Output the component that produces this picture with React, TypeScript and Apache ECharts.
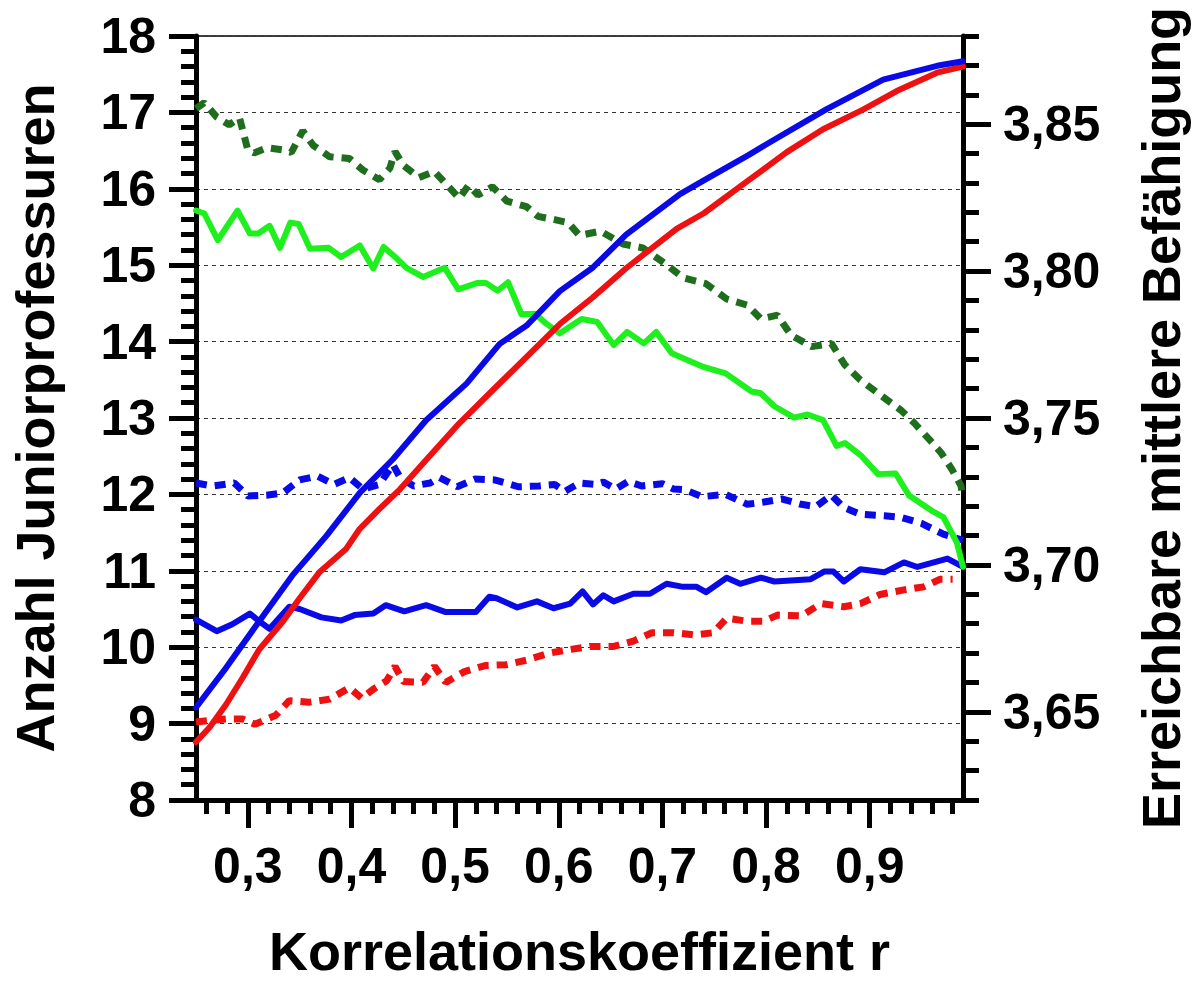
import React, { useEffect, useRef } from "react";
import * as echarts from "echarts";

// ---- tick values ----
const xMajorTicks = [0.3, 0.4, 0.5, 0.6, 0.7, 0.8, 0.9];
const xMinorTicks = [0.26, 0.28, 0.32, 0.34, 0.36, 0.38, 0.42, 0.44, 0.46, 0.48, 0.52, 0.54, 0.56, 0.58, 0.62, 0.64, 0.66, 0.68, 0.72, 0.74, 0.76, 0.78, 0.82, 0.84, 0.86, 0.88, 0.92, 0.94, 0.96, 0.98];
const rightMajorTicks = [3.65, 3.7, 3.75, 3.8, 3.85];
const rightMinorTicks = [3.62, 3.63, 3.64, 3.66, 3.67, 3.68, 3.69, 3.71, 3.72, 3.73, 3.74, 3.76, 3.77, 3.78, 3.79, 3.81, 3.82, 3.83, 3.84, 3.86, 3.87, 3.88];

// ---- series (left axis: Anzahl Juniorprofessuren) ----
const xBlueRise = [0.25, 0.279, 0.311, 0.343, 0.376, 0.408, 0.44, 0.472, 0.511, 0.543, 0.569, 0.601, 0.633, 0.665, 0.717, 0.74, 0.783, 0.8, 0.858, 0.913, 0.965, 0.99];
const yBlueRise = [9.21, 9.73, 10.34, 10.94, 11.46, 12.02, 12.46, 12.97, 13.45, 13.97, 14.21, 14.66, 14.97, 15.4, 15.93, 16.11, 16.44, 16.58, 17.04, 17.43, 17.61, 17.67];

const xRedRise = [0.25, 0.263, 0.279, 0.295, 0.311, 0.334, 0.35, 0.369, 0.395, 0.408, 0.427, 0.447, 0.472, 0.504, 0.536, 0.569, 0.601, 0.633, 0.665, 0.714, 0.74, 0.781, 0.82, 0.855, 0.894, 0.926, 0.965, 0.99];
const yRedRise = [8.76, 8.95, 9.25, 9.6, 9.97, 10.34, 10.64, 10.98, 11.29, 11.55, 11.81, 12.07, 12.45, 12.93, 13.36, 13.8, 14.23, 14.58, 14.96, 15.48, 15.68, 16.09, 16.48, 16.78, 17.04, 17.28, 17.52, 17.6];

const xBlueFlat = [0.25, 0.27, 0.285, 0.302, 0.311, 0.321, 0.34, 0.35, 0.371, 0.39, 0.403, 0.421, 0.433, 0.451, 0.472, 0.491, 0.52, 0.533, 0.54, 0.56, 0.579, 0.595, 0.611, 0.623, 0.633, 0.643, 0.653, 0.672, 0.688, 0.704, 0.72, 0.733, 0.742, 0.762, 0.775, 0.795, 0.808, 0.843, 0.856, 0.865, 0.875, 0.891, 0.914, 0.933, 0.946, 0.975, 0.99];
const yBlueFlat = [10.36, 10.21, 10.3, 10.44, 10.34, 10.24, 10.53, 10.5, 10.39, 10.35, 10.42, 10.44, 10.55, 10.47, 10.55, 10.46, 10.46, 10.66, 10.64, 10.52, 10.6, 10.51, 10.57, 10.73, 10.56, 10.68, 10.6, 10.7, 10.7, 10.83, 10.79, 10.79, 10.72, 10.91, 10.83, 10.91, 10.86, 10.89, 10.99, 10.99, 10.86, 11.02, 10.98, 11.11, 11.05, 11.16, 11.05];

const xBlueDash = [0.25, 0.266, 0.287, 0.3, 0.318, 0.334, 0.35, 0.367, 0.383, 0.398, 0.411, 0.427, 0.44, 0.447, 0.46, 0.476, 0.485, 0.502, 0.519, 0.538, 0.561, 0.581, 0.596, 0.606, 0.62, 0.636, 0.643, 0.655, 0.667, 0.68, 0.7, 0.711, 0.722, 0.738, 0.761, 0.782, 0.798, 0.815, 0.834, 0.848, 0.863, 0.875, 0.891, 0.914, 0.93, 0.95, 0.971, 0.99];
const yBlueDash = [12.15, 12.11, 12.15, 11.98, 11.99, 12.02, 12.19, 12.24, 12.13, 12.22, 12.07, 12.13, 12.39, 12.22, 12.11, 12.15, 12.22, 12.1, 12.2, 12.19, 12.1, 12.11, 12.13, 12.04, 12.15, 12.13, 12.16, 12.07, 12.17, 12.11, 12.14, 12.07, 12.06, 11.97, 12.0, 11.87, 11.9, 11.94, 11.87, 11.84, 11.99, 11.83, 11.74, 11.72, 11.7, 11.62, 11.48, 11.4];

const xRedDash = [0.25, 0.263, 0.279, 0.295, 0.307, 0.327, 0.34, 0.359, 0.379, 0.398, 0.41, 0.421, 0.434, 0.442, 0.45, 0.469, 0.48, 0.491, 0.509, 0.529, 0.549, 0.569, 0.59, 0.611, 0.63, 0.653, 0.672, 0.69, 0.711, 0.731, 0.749, 0.762, 0.782, 0.798, 0.811, 0.834, 0.853, 0.875, 0.891, 0.91, 0.933, 0.952, 0.968, 0.98];
const yRedDash = [9.02, 9.04, 9.06, 9.06, 8.99, 9.11, 9.3, 9.28, 9.32, 9.47, 9.33, 9.45, 9.56, 9.75, 9.55, 9.54, 9.75, 9.54, 9.68, 9.76, 9.77, 9.83, 9.92, 9.97, 10.01, 10.01, 10.08, 10.19, 10.19, 10.16, 10.19, 10.38, 10.34, 10.34, 10.42, 10.41, 10.57, 10.53, 10.57, 10.69, 10.75, 10.79, 10.89, 10.89];

// ---- series (right axis: Erreichbare mittlere Befähigung) ----
const xGreen = [0.25, 0.258, 0.271, 0.29, 0.302, 0.31, 0.321, 0.331, 0.341, 0.349, 0.36, 0.378, 0.39, 0.408, 0.421, 0.431, 0.443, 0.453, 0.469, 0.49, 0.503, 0.521, 0.53, 0.541, 0.551, 0.564, 0.577, 0.588, 0.601, 0.622, 0.637, 0.653, 0.666, 0.682, 0.694, 0.709, 0.725, 0.738, 0.761, 0.786, 0.795, 0.808, 0.827, 0.84, 0.855, 0.868, 0.876, 0.892, 0.908, 0.925, 0.938, 0.96, 0.971, 0.984, 0.99];
const yGreen = [3.8206, 3.8196, 3.8105, 3.8206, 3.8128, 3.8128, 3.8154, 3.8079, 3.8165, 3.816, 3.8076, 3.8079, 3.8048, 3.8087, 3.8009, 3.8082, 3.8045, 3.8011, 3.798, 3.8011, 3.7938, 3.7959, 3.7959, 3.7933, 3.7962, 3.7853, 3.7855, 3.7821, 3.7788, 3.7837, 3.7827, 3.7748, 3.7793, 3.7754, 3.7793, 3.772, 3.7696, 3.7676, 3.7652, 3.759, 3.7584, 3.754, 3.7501, 3.7512, 3.7493, 3.7405, 3.7415, 3.7371, 3.7309, 3.7311, 3.7236, 3.7184, 3.7163, 3.7077, 3.6994];

const xDarkGreenDash = [0.25, 0.258, 0.27, 0.282, 0.292, 0.3, 0.306, 0.319, 0.334, 0.342, 0.353, 0.363, 0.379, 0.398, 0.411, 0.427, 0.437, 0.442, 0.45, 0.465, 0.48, 0.495, 0.504, 0.513, 0.522, 0.536, 0.55, 0.569, 0.58, 0.596, 0.609, 0.62, 0.64, 0.662, 0.681, 0.704, 0.72, 0.742, 0.762, 0.782, 0.795, 0.811, 0.824, 0.844, 0.863, 0.876, 0.891, 0.91, 0.93, 0.943, 0.959, 0.969, 0.979, 0.988, 0.99];
const yDarkGreenDash = [3.8553, 3.8573, 3.8524, 3.8498, 3.8521, 3.8412, 3.8402, 3.842, 3.8412, 3.8404, 3.8477, 3.8428, 3.8389, 3.8383, 3.8344, 3.8311, 3.835, 3.8407, 3.836, 3.8318, 3.8339, 3.8282, 3.8248, 3.8292, 3.8259, 3.8287, 3.8238, 3.8219, 3.8186, 3.8175, 3.8165, 3.8121, 3.8136, 3.8092, 3.8079, 3.8022, 3.7977, 3.7957, 3.7905, 3.7884, 3.7837, 3.785, 3.7782, 3.7743, 3.7754, 3.7681, 3.7629, 3.7579, 3.7527, 3.7483, 3.7421, 3.7381, 3.7327, 3.727, 3.7231];

const FONT = "'Liberation Sans', Arial, sans-serif";
const zip = (xs: number[], ys: number[]) => xs.map((x, i) => [x, ys[i]]);
const comma = (v: number, d: number) => v.toFixed(d).replace(".", ",");

export default function App() {
  const ref = useRef<HTMLDivElement>(null);
  useEffect(() => {
    if (!ref.current) return;
    const chart = echarts.init(ref.current, null, { renderer: "svg" });
    const labelStyle = { fontFamily: FONT, fontWeight: "bold" as const, fontSize: 50, color: "#000" };
    const nameStyle = { fontFamily: FONT, fontWeight: "bold" as const, fontSize: 54, color: "#000" };
    const solid = (name: string, xs: number[], ys: number[], color: string, yIdx: number) => ({
      name, type: "line", data: zip(xs, ys), yAxisIndex: yIdx, xAxisIndex: 0,
      showSymbol: false, symbol: "none",
      lineStyle: { color, width: 6, join: "round", cap: "round" }, z: 3,
    });
    const dashed = (name: string, xs: number[], ys: number[], color: string, yIdx: number) => ({
      name, type: "line", data: zip(xs, ys), yAxisIndex: yIdx, xAxisIndex: 0,
      showSymbol: false, symbol: "none",
      lineStyle: { color, width: 7, type: [11, 8], cap: "butt" }, z: 2,
    });
    chart.setOption({
      animation: false,
      backgroundColor: "#fff",
      grid: { left: 192.5, right: 233, top: 36, bottom: 176.3, show: true, borderColor: "#000", borderWidth: 1.5, backgroundColor: "transparent" },
      xAxis: [
        {
          type: "value", min: 0.25, max: 0.99, position: "bottom",
          name: "Korrelationskoeffizient r", nameLocation: "middle", nameGap: 124, nameTextStyle: nameStyle,
          axisLine: { show: true, onZero: false, lineStyle: { color: "#000", width: 5 } },
          axisTick: { show: true, inside: false, customValues: xMajorTicks, length: 28, lineStyle: { color: "#000", width: 5 } },
          axisLabel: { ...labelStyle, customValues: xMajorTicks, margin: 41, formatter: (v: number) => comma(v, 1) },
          splitLine: { show: false },
        },
        {
          type: "value", min: 0.25, max: 0.99, position: "bottom",
          axisLine: { show: false, onZero: false },
          axisTick: { show: true, inside: false, customValues: xMinorTicks, length: 14, lineStyle: { color: "#000", width: 5 } },
          axisLabel: { show: false },
          splitLine: { show: false },
        },
      ],
      yAxis: [
        {
          type: "value", min: 8, max: 18, interval: 1, position: "left",
          name: "Anzahl Juniorprofessuren", nameLocation: "middle", nameGap: 134, nameTextStyle: nameStyle,
          axisLine: { show: true, onZero: false, lineStyle: { color: "#000", width: 5 } },
          axisTick: { show: true, inside: false, length: 27, lineStyle: { color: "#000", width: 5 } },
          minorTick: { show: true, splitNumber: 5, length: 15, lineStyle: { color: "#000", width: 5 } },
          axisLabel: { ...labelStyle, margin: 40, formatter: (v: number) => String(v) },
          splitLine: { show: true, lineStyle: { color: "#333", width: 1.2, type: [4, 4] } },
        },
        {
          type: "value", min: 3.62, max: 3.88, position: "right",
          name: "Erreichbare mittlere Befähigung", nameLocation: "middle", nameGap: 171, nameTextStyle: nameStyle,
          axisLine: { show: true, onZero: false, lineStyle: { color: "#000", width: 5 } },
          axisTick: { show: true, inside: false, customValues: rightMajorTicks, length: 28, lineStyle: { color: "#000", width: 5 } },
          axisLabel: { ...labelStyle, customValues: rightMajorTicks, margin: 40, formatter: (v: number) => comma(v, 2) },
          splitLine: { show: false },
        },
        {
          type: "value", min: 3.62, max: 3.88, position: "right",
          axisLine: { show: false, onZero: false },
          axisTick: { show: true, inside: false, customValues: rightMinorTicks, length: 16, lineStyle: { color: "#000", width: 5 } },
          axisLabel: { show: false },
          splitLine: { show: false },
        },
      ],
      series: [
        dashed("Dunkelgrün gestrichelt", xDarkGreenDash, yDarkGreenDash, "#1e6e1e", 1),
        dashed("Blau gestrichelt", xBlueDash, yBlueDash, "#0a0ae6", 0),
        dashed("Rot gestrichelt", xRedDash, yRedDash, "#ee1111", 0),
        solid("Blau flach", xBlueFlat, yBlueFlat, "#0a0ae6", 0),
        solid("Grün", xGreen, yGreen, "#1ef01e", 1),
        solid("Rot", xRedRise, yRedRise, "#ee1111", 0),
        solid("Blau steigend", xBlueRise, yBlueRise, "#0a0ae6", 0),
      ],
    });
    return () => chart.dispose();
  }, []);
  return <div ref={ref} style={{ position: "fixed", left: 0, top: 0, width: 1196, height: 983, background: "#fff" }} />;
}
